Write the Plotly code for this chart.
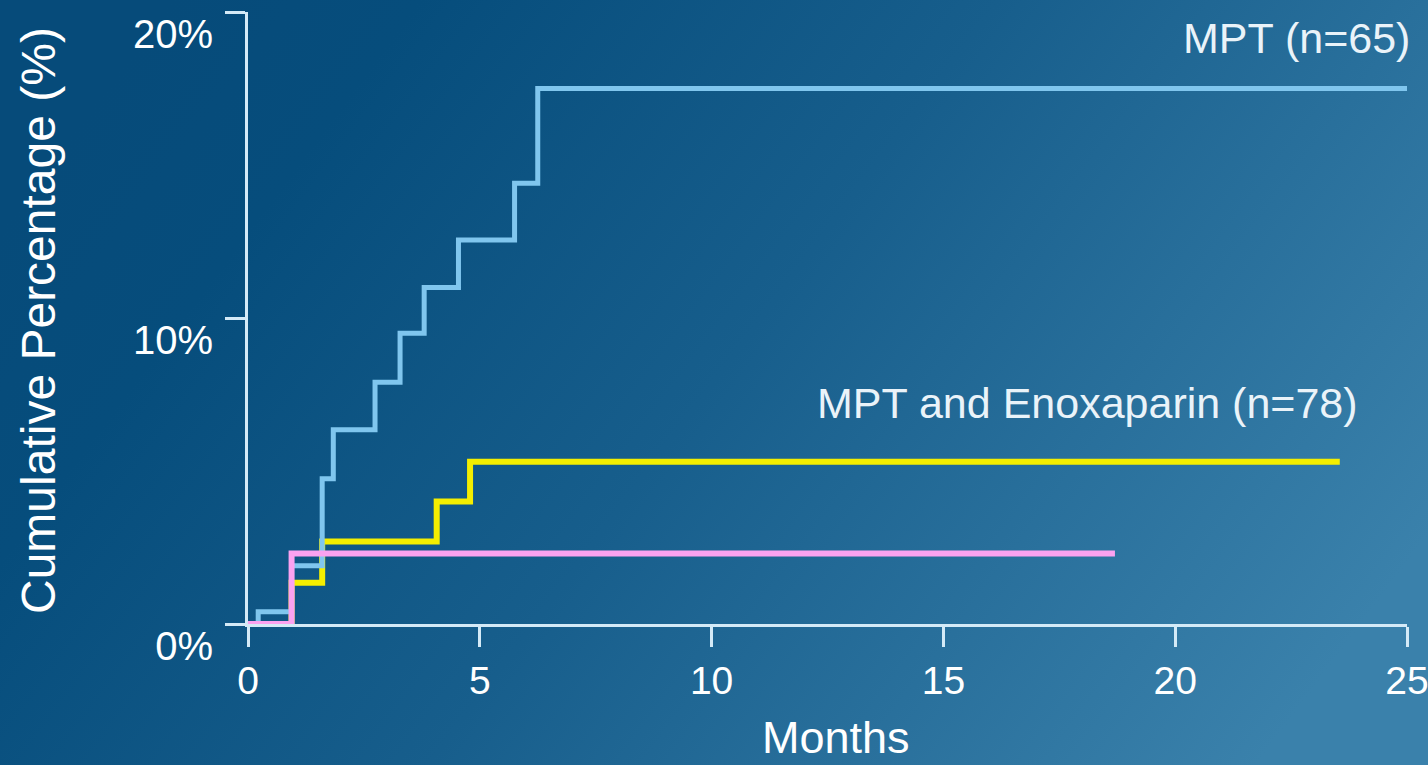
import base64
import plotly.graph_objects as go

# Cumulative incidence (%) by month, step functions
mpt_months = [0, 0.22, 0.94, 1.60, 1.84, 2.74, 3.28, 3.80, 4.54, 5.75, 6.25, 25.0]
mpt_pct = [0, 0.4, 1.9, 4.75, 6.35, 7.9, 9.5, 11.0, 12.55, 14.4, 17.5, 17.5]

enox_months = [0, 0.94, 1.60, 4.07, 4.79, 23.55]
enox_pct = [0, 1.35, 2.7, 4.0, 5.3, 5.3]

third_months = [0, 0.94, 18.7]
third_pct = [0, 2.3, 2.3]

x_ticks = [0, 5, 10, 15, 20, 25]
y_ticks = [0, 10, 20]
y_tick_text = ["0%", "10%", "20%"]

W, H = 1428, 765
L, R, T, B = 248, 21, 12, 141
pw, ph = W - L - R, H - T - B

# Mostly left-to-right blue background gradient as an inline SVG
svg = f"""<svg xmlns='http://www.w3.org/2000/svg' width='{W}' height='{H}'>
<defs><linearGradient id='g' x1='0' y1='0.3' x2='1' y2='0.7'>
<stop offset='0' stop-color='#064b7a'/>
<stop offset='0.15' stop-color='#064d7c'/>
<stop offset='0.5' stop-color='#175e8c'/>
<stop offset='1' stop-color='#3a81ab'/>
</linearGradient></defs>
<rect width='{W}' height='{H}' fill='url(#g)'/></svg>"""
bg_src = "data:image/svg+xml;base64," + base64.b64encode(svg.encode()).decode()

fig = go.Figure()
fig.add_trace(go.Scatter(x=enox_months, y=enox_pct, mode="lines",
                         line=dict(color="#f4ee00", width=6, shape="hv")))
fig.add_trace(go.Scatter(x=mpt_months, y=mpt_pct, mode="lines",
                         line=dict(color="#80c6ee", width=5, shape="hv")))
fig.add_trace(go.Scatter(x=third_months, y=third_pct, mode="lines",
                         line=dict(color="#fba2f0", width=6, shape="hv")))

font = "Liberation Sans, Arial, sans-serif"
axis_col = "#d4eaf7"

fig.update_layout(
    width=W, height=H,
    margin=dict(l=L, r=R, t=T, b=B, autoexpand=False),
    showlegend=False,
    paper_bgcolor="#1a5f8d",
    plot_bgcolor="rgba(0,0,0,0)",
    font=dict(family=font, color="white"),
    images=[dict(source=bg_src, xref="paper", yref="paper",
                 x=-L / pw, y=1 + T / ph, sizex=W / pw, sizey=H / ph,
                 xanchor="left", yanchor="top", sizing="stretch",
                 layer="below")],
    xaxis=dict(range=[0, 25], tickvals=x_ticks, ticks="outside", ticklen=20,
               tickwidth=3, tickcolor=axis_col, showline=True, linewidth=3,
               linecolor=axis_col, showgrid=False, zeroline=False,
               tickfont=dict(size=39, color="white"), ticklabelstandoff=0,
               ticklabeloverflow="allow", automargin=False,
               layer="below traces"),
    yaxis=dict(range=[0, 20], tickvals=y_ticks, ticktext=y_tick_text,
               ticks="outside", ticklen=20, tickwidth=3, tickcolor=axis_col,
               showline=True, linewidth=3, linecolor=axis_col,
               showgrid=False, zeroline=False,
               tickfont=dict(size=40, color="white"), ticklabelstandoff=4,
               ticklabelshift=22, ticklabeloverflow="allow", automargin=False,
               layer="below traces"),
    annotations=[
        dict(text="Months", xref="paper", yref="paper",
             x=(836 - L) / pw, y=-(B - 1) / ph, xanchor="center",
             yanchor="bottom", showarrow=False, borderpad=0,
             font=dict(size=45, color="white", family=font)),
        dict(text="Cumulative Percentage (%)", xref="paper", yref="paper",
             x=(38 - L) / pw, y=(624 - 321) / ph, xanchor="center",
             yanchor="middle", textangle=-90, showarrow=False,
             font=dict(size=48, color="white", family=font)),
        dict(text="MPT (n=65)", xref="paper", yref="paper",
             x=(1412 - L) / pw, y=(624 - 38) / ph, xanchor="right",
             yanchor="middle", showarrow=False,
             font=dict(size=43, color="#eaf3f9", family=font)),
        dict(text="MPT and Enoxaparin (n=78)", xref="paper", yref="paper",
             x=(1360 - L) / pw, y=(624 - 403) / ph, xanchor="right",
             yanchor="middle", showarrow=False,
             font=dict(size=43, color="#eaf3f9", family=font)),
    ],
)

fig.write_html("out.html")
